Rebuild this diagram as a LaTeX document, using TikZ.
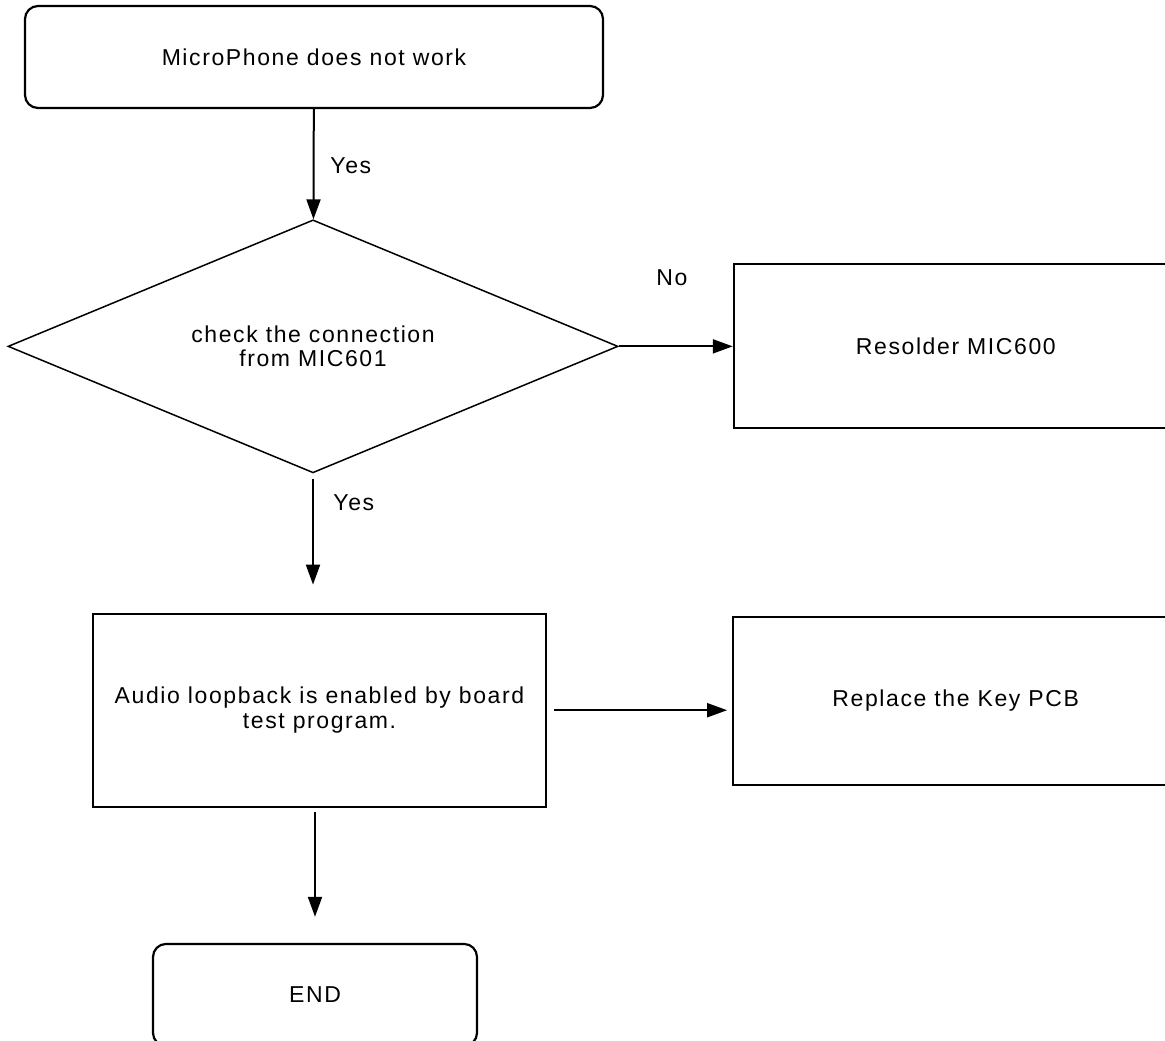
\documentclass[tikz,border=0pt]{standalone}
\usepackage{fontspec}
\usepackage{xcolor}
\usepackage{tikz}
\usetikzlibrary{arrows.meta,positioning,shapes.geometric}
\newfontfamily\chartfont{Liberation Sans}[LetterSpace=7]

\begin{document}
\begin{tikzpicture}[
  x=0.5pt,y=-0.5pt,
  font=\chartfont\fontsize{11.5}{12.25}\selectfont,
  tbox/.style={draw,line width=1.1pt,rounded corners=6.5pt,
    minimum width=289pt,minimum height=51pt,align=center,inner sep=0pt},
  pbox/.style={draw,line width=1.1pt,align=center,inner sep=0pt},
  dbox/.style={draw,diamond,aspect=2.4,line width=0.75pt,
    minimum width=305pt,minimum height=126.5pt,align=center,inner sep=0pt},
  a/.style={-{Triangle[length=10pt,width=7pt]},line width=1pt},
  lbl/.style={anchor=base west,inner sep=0pt}
]
  \useasboundingbox (0,0) rectangle (1165,1040);
  \node[tbox] (start) at (314,57) {MicroPhone does not work};
  \node[dbox,below=55pt of start,xshift=-0.5pt] (dia) {check the connection\\from MIC601};
  \node[pbox,right=57pt of dia,minimum width=222pt,minimum height=82pt] (res) {Resolder MIC600};
  \node[pbox,below=69.5pt of dia,xshift=3.25pt,minimum width=226.5pt,minimum height=96.5pt]
    (audio) {Audio loopback is enabled by board\\test program.};
  \node[pbox,right=92.5pt of audio,yshift=4.75pt,minimum width=222.5pt,minimum height=84pt]
    (rep) {Replace the Key PCB};
  \node[tbox,below=67.5pt of audio,xshift=-2.25pt,minimum width=162pt] (end) {END};
  % connectors
  \draw[a] (start) -- (dia);
  \draw[a] (dia) -- (res);
  \draw[a,shorten <=2.5pt,shorten >=14pt] (dia.south) -- (dia.south |- audio.north);
  \draw[a,shorten <=3.5pt,shorten >=2.5pt] (audio.east) -- (audio.east -| rep.west);
  \draw[a,shorten <=2pt,shorten >=13pt] (end.north |- audio.south) -- (end.north);
  % labels
  \node[lbl] (yes1) at (330,173) {Yes};
  \node[lbl] (no) at (656,285) {No};
  \node[lbl] (yes2) at (333,510) {Yes};
\end{tikzpicture}
\end{document}
